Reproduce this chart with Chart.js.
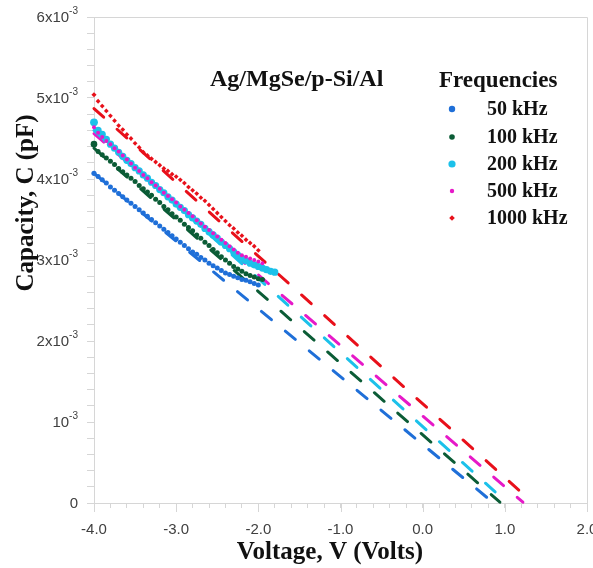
<!DOCTYPE html>
<html>
<head>
<meta charset="utf-8">
<script src="https://cdn.jsdelivr.net/npm/chart.js@4.4.0/dist/chart.umd.min.js"></script>
<style>
  html, body { margin: 0; padding: 0; background: #fff; }
</style>
</head>
<body>
<canvas id="chart" width="593" height="568"></canvas>
<script>
// Capacity values are in units of 10^-3 pF
const voltages = [-4.00, -3.95, -3.90, -3.85, -3.80, -3.75, -3.70, -3.65, -3.60, -3.55,
                  -3.50, -3.45, -3.40, -3.35, -3.30, -3.25, -3.20, -3.15, -3.10, -3.05,
                  -3.00, -2.95, -2.90, -2.85, -2.80, -2.75, -2.70, -2.65, -2.60, -2.55,
                  -2.50, -2.45, -2.40, -2.35, -2.30, -2.25, -2.20, -2.15, -2.10, -2.05,
                  -2.00, -1.95, -1.90, -1.85, -1.80];

const c50 = [4.07, 4.03, 3.99, 3.95, 3.90, 3.86, 3.82, 3.78, 3.74, 3.70,
             3.66, 3.62, 3.58, 3.54, 3.50, 3.46, 3.42, 3.38, 3.34, 3.30,
             3.26, 3.22, 3.18, 3.14, 3.10, 3.07, 3.03, 3.00, 2.96, 2.93,
             2.90, 2.87, 2.84, 2.82, 2.80, 2.78, 2.76, 2.75, 2.73, 2.71,
             2.69];
const c100 = [4.43, 4.34, 4.30, 4.26, 4.22, 4.18, 4.13, 4.09, 4.05, 4.01,
              3.97, 3.92, 3.88, 3.84, 3.80, 3.75, 3.71, 3.66, 3.62, 3.57,
              3.53, 3.49, 3.44, 3.40, 3.36, 3.31, 3.27, 3.22, 3.18, 3.13,
              3.09, 3.04, 3.00, 2.96, 2.92, 2.89, 2.86, 2.83, 2.81, 2.79,
              2.77, 2.76];
const c200 = [4.70, 4.60, 4.55, 4.49, 4.43, 4.38, 4.33, 4.28, 4.23, 4.19,
              4.14, 4.10, 4.05, 4.01, 3.96, 3.92, 3.87, 3.83, 3.78, 3.74,
              3.69, 3.65, 3.61, 3.56, 3.52, 3.48, 3.44, 3.39, 3.35, 3.31,
              3.27, 3.22, 3.18, 3.14, 3.10, 3.06, 3.02, 2.99, 2.96, 2.94,
              2.92, 2.90, 2.88, 2.86, 2.85];
const c500 = [4.64, 4.57, 4.52, 4.47, 4.43, 4.38, 4.34, 4.29, 4.24, 4.19,
              4.14, 4.10, 4.05, 4.01, 3.96, 3.92, 3.88, 3.83, 3.79, 3.75,
              3.71, 3.66, 3.62, 3.58, 3.54, 3.49, 3.45, 3.41, 3.37, 3.33,
              3.29, 3.25, 3.21, 3.17, 3.13, 3.09, 3.06, 3.04, 3.02, 3.00,
              2.98, 2.96];
const c1000 = [5.04, 4.96, 4.90, 4.84, 4.78, 4.72, 4.66, 4.61, 4.55, 4.50,
               4.44, 4.39, 4.33, 4.29, 4.25, 4.21, 4.17, 4.13, 4.10, 4.06,
               4.03, 3.99, 3.95, 3.90, 3.86, 3.82, 3.77, 3.73, 3.68, 3.63,
               3.58, 3.53, 3.48, 3.43, 3.39, 3.34, 3.30, 3.25, 3.21, 3.17,
               3.12];

// linear extrapolations (start, end) as [V, C]
const fit50 = [[-4.0, 4.07], [0.78, 0.07]];
const fit100 = [[-4.0, 4.38], [0.94, 0.01]];
const fit200 = [[-4.0, 4.60], [0.90, 0.12]];
const fit500 = [[-4.0, 4.56], [1.22, 0.01]];
const fit1000 = [[-4.0, 4.87], [1.18, 0.15]];

const seriesNames = ['50 kHz', '100 kHz', '200 kHz', '500 kHz', '1000 kHz'];
const seriesValues = [c50, c100, c200, c500, c1000];
const seriesFits = [fit50, fit100, fit200, fit500, fit1000];
const colors = ['#1f6fd8', '#0b5c36', '#1cc1ea', '#e619c8', '#e8101a'];

const xTickValues = [-4, -3, -2, -1, 0, 1, 2];
const xTickLabels = ['-4.0', '-3.0', '-2.0', '-1.0', '0.0', '1.0', '2.0'];
const yTickValues = [0, 1, 2, 3, 4, 5, 6];
const yTickLabels = ['0', '10', '2x10', '3x10', '4x10', '5x10', '6x10'];
const yTickExps = ['', '-3', '-3', '-3', '-3', '-3', '-3'];

const pointStyles = [
    { style: 'circle', r: 2.5, first: 2.6, legend: 3.2 },
    { style: 'circle', r: 2.5, first: 3.3, legend: 2.8 },
    { style: 'circle', r: 3.6, first: 3.9, legend: 3.6 },
    { style: 'circle', r: 2.0, first: 2.0, legend: 2.2 },
    { style: 'rectRot', r: 2.4, first: 2.6, legend: 2.8 }
];

const serif = '"Liberation Serif", "Times New Roman", serif';
const sans = '"Liberation Sans", Arial, sans-serif';
const axisColor = '#d6d6d6';

const datasets = [];
seriesValues.forEach((vals, i) => {
    const ps = pointStyles[i];
    datasets.push({
        label: seriesNames[i],
        data: vals.map((c, k) => ({ x: voltages[k], y: c })),
        showLine: false,
        pointStyle: ps.style,
        pointRadius: ctx => ctx.dataIndex === 0 ? ps.first : ps.r,
        pointBackgroundColor: colors[i],
        pointBorderWidth: 0,
        clip: 6,
        order: 5 - i
    });
});
seriesFits.forEach((fit, i) => {
    datasets.push({
        label: seriesNames[i] + ' fit',
        data: fit.map(p => ({ x: p[0], y: p[1] })),
        showLine: true,
        pointRadius: 0,
        borderColor: colors[i],
        borderWidth: 3,
        borderDash: [13, 18],
        borderCapStyle: 'round',
        clip: 6,
        order: 10
    });
});

const decor = {
    id: 'decor',
    afterDraw(chart) {
        const { ctx, chartArea: a, scales: { x, y } } = chart;
        ctx.save();

        // plot box top / right
        ctx.strokeStyle = axisColor;
        ctx.lineWidth = 1;
        ctx.beginPath();
        ctx.moveTo(a.left, a.top + 0.5);
        ctx.lineTo(a.right + 0.5, a.top + 0.5);
        ctx.lineTo(a.right + 0.5, a.bottom);
        ctx.stroke();

        // longer major ticks on x
        ctx.beginPath();
        xTickValues.forEach(v => {
            const px = Math.round(x.getPixelForValue(v)) + 0.5;
            ctx.moveTo(px, a.bottom);
            ctx.lineTo(px, a.bottom + 9);
        });
        ctx.stroke();

        // x tick labels
        ctx.fillStyle = '#404040';
        ctx.font = '15px ' + sans;
        ctx.textAlign = 'center';
        ctx.textBaseline = 'alphabetic';
        xTickValues.forEach((v, i) => {
            ctx.fillText(xTickLabels[i], x.getPixelForValue(v), 534);
        });

        // y tick labels with superscript exponent
        ctx.textAlign = 'right';
        yTickValues.forEach((v, i) => {
            const py = y.getPixelForValue(v);
            let right = 78;
            if (yTickExps[i]) {
                ctx.font = '10px ' + sans;
                ctx.fillText(yTickExps[i], right, py - 3);
                right -= ctx.measureText(yTickExps[i]).width;
            }
            ctx.font = '15px ' + sans;
            ctx.fillText(yTickLabels[i], right, py + 5);
        });

        // axis titles
        ctx.fillStyle = '#111';
        ctx.font = 'bold 25px ' + serif;
        ctx.textAlign = 'center';
        ctx.fillText('Voltage, V (Volts)', 330, 559);
        ctx.save();
        ctx.translate(33, 203);
        ctx.rotate(-Math.PI / 2);
        ctx.fillText('Capacity, C (pF)', 0, 0);
        ctx.restore();

        // inner title
        ctx.textAlign = 'left';
        ctx.font = 'bold 24px ' + serif;
        ctx.fillText('Ag/MgSe/p-Si/Al', 210, 86);

        // legend
        ctx.font = 'bold 23px ' + serif;
        ctx.fillText('Frequencies', 439, 87);
        ctx.font = 'bold 20px ' + serif;
        const legendY = [109, 137, 164, 191, 218];
        seriesNames.forEach((name, i) => {
            ctx.fillStyle = colors[i];
            Chart.helpers.drawPoint(ctx, {
                pointStyle: pointStyles[i].style,
                radius: pointStyles[i].legend,
                rotation: 0,
                borderWidth: 0
            }, 452, legendY[i]);
            ctx.fillStyle = '#111';
            ctx.fillText(name, 487, legendY[i] + 6);
        });

        ctx.restore();
    }
};

new Chart(document.getElementById('chart'), {
    type: 'scatter',
    data: { datasets },
    options: {
        responsive: false,
        animation: false,
        layout: { autoPadding: false, padding: { top: 17, right: 6, left: 0, bottom: 0 } },
        plugins: { legend: { display: false }, tooltip: { enabled: false } },
        scales: {
            x: {
                type: 'linear', min: -4, max: 2,
                ticks: { stepSize: 0.2, display: false },
                grid: { drawOnChartArea: false, drawTicks: true, tickLength: 5, color: axisColor },
                border: { display: true, color: axisColor },
                afterFit: s => { s.height = 65; }
            },
            y: {
                type: 'linear', min: 0, max: 6,
                ticks: { stepSize: 0.2, display: false },
                grid: { drawOnChartArea: false, drawTicks: true, tickLength: 7, color: axisColor },
                border: { display: true, color: axisColor },
                afterFit: s => { s.width = 94; }
            }
        }
    },
    plugins: [decor]
});
</script>
</body>
</html>
